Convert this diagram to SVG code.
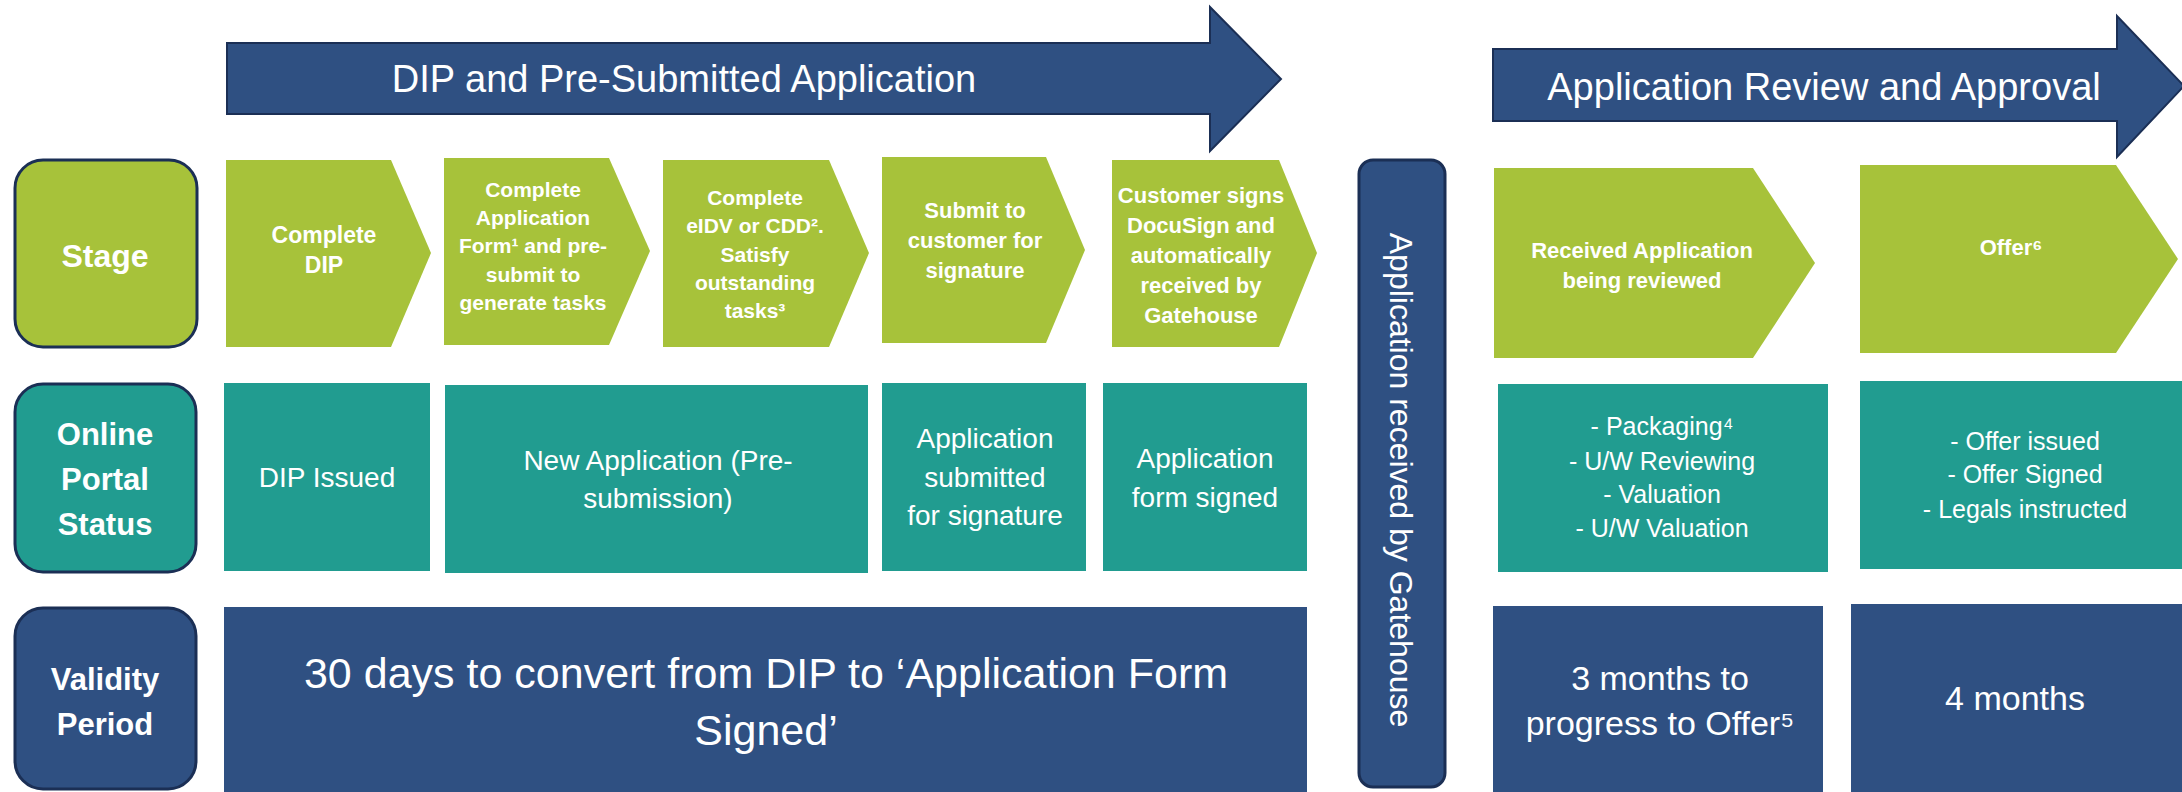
<svg xmlns="http://www.w3.org/2000/svg" width="2182" height="792" viewBox="0 0 2182 792">
<style>
text{font-family:"Liberation Sans",Arial,sans-serif;fill:#fff;text-anchor:middle}
.green{fill:#A7C23A}
.teal{fill:#219C90}
.navy{fill:#2F5082}
.edge{stroke:#1B2F55;stroke-width:3}
.arrow{fill:#2F5082;stroke:#1B2F55;stroke-width:2}
.hd{font-size:38px}
.lab{font-size:31px;font-weight:bold}
.stg{font-size:22px;font-weight:bold}
.st1{font-size:23px;font-weight:bold}
.st{font-size:21px;font-weight:bold}
.ps{font-size:28px}
.ps2{font-size:25px}
.vp{font-size:34px}
.big{font-size:43px}
.vert{font-size:32px}
</style>
<rect width="2182" height="792" fill="#fff"/>
<g id="connectors"/>
<g id="phase1">
<polygon class="arrow" points="227,43 1210,43 1210,7 1281,79 1210,151 1210,114 227,114"/>
<text class="hd" x="684" y="92">DIP and Pre-Submitted Application</text>
</g>
<g id="phase2">
<polygon class="arrow" points="1493,49 2117,49 2117,16 2184,86 2117,157 2117,121 1493,121"/>
<text class="hd" x="1824" y="100">Application Review and Approval</text>
</g>
<g id="label-stage">
<rect class="green edge" x="15" y="160" width="182" height="187" rx="28"/>
<text class="lab" x="105" y="267" style="font-size:32px">Stage</text>
</g>
<g id="label-status">
<rect class="teal edge" x="15" y="384" width="181" height="188" rx="28"/>
<text class="lab" x="105" y="445">Online</text>
<text class="lab" x="105" y="490">Portal</text>
<text class="lab" x="105" y="535">Status</text>
</g>
<g id="label-validity">
<rect class="navy edge" x="15" y="608" width="181" height="181" rx="28"/>
<text class="lab" x="105" y="690">Validity</text>
<text class="lab" x="105" y="735">Period</text>
</g>
<g id="stage1">
<polygon class="green" points="226,160 391,160 431,253 391,347 226,347"/>
<text class="st1" x="324" y="243">Complete</text>
<text class="st1" x="324" y="273">DIP</text>
</g>
<g id="stage2">
<polygon class="green" points="444,158 609,158 650,251 609,345 444,345"/>
<text class="st" x="533" y="197">Complete</text>
<text class="st" x="533" y="225">Application</text>
<text class="st" x="533" y="253">Form¹ and pre-</text>
<text class="st" x="533" y="282">submit to</text>
<text class="st" x="533" y="310">generate tasks</text>
</g>
<g id="stage3">
<polygon class="green" points="663,160 829,160 869,253 829,347 663,347"/>
<text class="st" x="755" y="205">Complete</text>
<text class="st" x="755" y="233">eIDV or CDD².</text>
<text class="st" x="755" y="262">Satisfy</text>
<text class="st" x="755" y="290">outstanding</text>
<text class="st" x="755" y="318">tasks³</text>
</g>
<g id="stage4">
<polygon class="green" points="882,157 1046,157 1085,250 1046,343 882,343"/>
<text class="stg" x="975" y="218">Submit to</text>
<text class="stg" x="975" y="248">customer for</text>
<text class="stg" x="975" y="278">signature</text>
</g>
<g id="stage5">
<polygon class="green" points="1112,160 1279,160 1317,253 1279,347 1112,347"/>
<text class="stg" x="1201" y="203">Customer signs</text>
<text class="stg" x="1201" y="233">DocuSign and</text>
<text class="stg" x="1201" y="263">automatically</text>
<text class="stg" x="1201" y="293">received by</text>
<text class="stg" x="1201" y="323">Gatehouse</text>
</g>
<g id="stage6">
<polygon class="green" points="1494,168 1753,168 1815,263 1753,358 1494,358"/>
<text class="stg" x="1642" y="258">Received Application</text>
<text class="stg" x="1642" y="288">being reviewed</text>
</g>
<g id="stage7">
<polygon class="green" points="1860,165 2116,165 2178,259 2116,353 1860,353"/>
<text class="stg" x="2011" y="255">Offer⁶</text>
</g>
<g id="received">
<rect class="navy edge" x="1359" y="160" width="86" height="627" rx="14"/>
<text class="vert" x="0" y="0" dy="0.35em" transform="translate(1401,480) rotate(90)">Application received by Gatehouse</text>
</g>
<g id="status1">
<rect class="teal" x="224" y="383" width="206" height="188"/>
<text class="ps" x="327" y="487">DIP Issued</text>
</g>
<g id="status2">
<rect class="teal" x="445" y="385" width="423" height="188"/>
<text class="ps" x="658" y="470">New Application (Pre-</text>
<text class="ps" x="658" y="508">submission)</text>
</g>
<g id="status3">
<rect class="teal" x="882" y="383" width="204" height="188"/>
<text class="ps" x="985" y="448">Application</text>
<text class="ps" x="985" y="487">submitted</text>
<text class="ps" x="985" y="525">for signature</text>
</g>
<g id="status4">
<rect class="teal" x="1103" y="383" width="204" height="188"/>
<text class="ps" x="1205" y="468">Application</text>
<text class="ps" x="1205" y="507">form signed</text>
</g>
<g id="status5">
<rect class="teal" x="1498" y="384" width="330" height="188"/>
<text class="ps2" x="1662" y="435">- Packaging⁴</text>
<text class="ps2" x="1662" y="470">- U/W Reviewing</text>
<text class="ps2" x="1662" y="503">- Valuation</text>
<text class="ps2" x="1662" y="537">- U/W Valuation</text>
</g>
<g id="status6">
<rect class="teal" x="1860" y="381" width="330" height="188"/>
<text class="ps2" x="2025" y="450">- Offer issued</text>
<text class="ps2" x="2025" y="483">- Offer Signed</text>
<text class="ps2" x="2025" y="518">- Legals instructed</text>
</g>
<g id="validity1">
<rect class="navy" x="224" y="607" width="1083" height="190"/>
<text class="big" x="766" y="688">30 days to convert from DIP to ‘Application Form</text>
<text class="big" x="766" y="745">Signed’</text>
</g>
<g id="validity2">
<rect class="navy" x="1493" y="606" width="330" height="190"/>
<text class="vp" x="1660" y="690">3 months to</text>
<text class="vp" x="1660" y="735">progress to Offer⁵</text>
</g>
<g id="validity3">
<rect class="navy" x="1851" y="604" width="340" height="192"/>
<text class="vp" x="2015" y="710">4 months</text>
</g>
</svg>
